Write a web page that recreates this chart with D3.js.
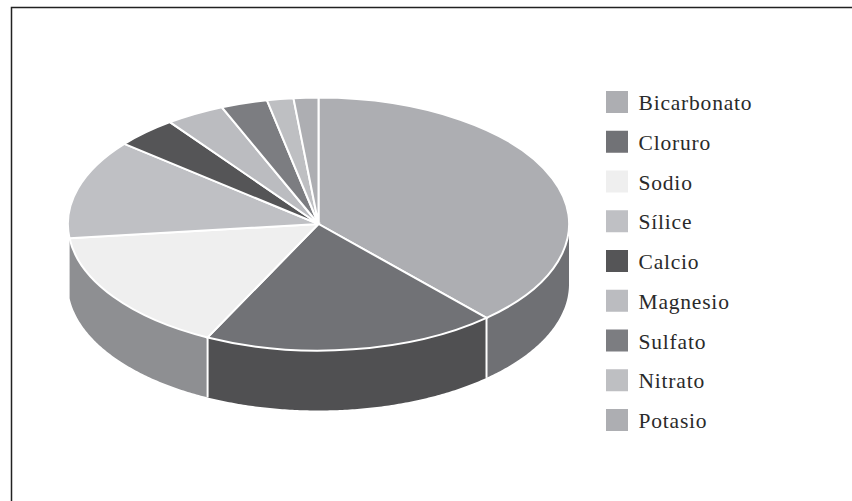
<!DOCTYPE html>
<html lang="es">
<head>
<meta charset="utf-8">
<script src="https://cdn.jsdelivr.net/npm/d3@7"></script>
<style>
  html, body { margin: 0; padding: 0; background: #fff; }
  svg { display: block; }
  text { font-family: "Liberation Serif", serif; font-size: 21.5px; fill: #2a2a2a; }
</style>
</head>
<body>
<svg id="chart" width="852" height="501"></svg>
<script>
// Dissolved constituents, in percent of the total
const categories = ["Bicarbonato", "Cloruro", "Sodio", "Sílice", "Calcio", "Magnesio", "Sulfato", "Nitrato", "Potasio"];
const values = [38.3, 19.0, 15.9, 12.7, 4.0, 3.8, 3.0, 1.7, 1.6];
const topColors = ["#adaeb2", "#717276", "#efefef", "#bfc0c4", "#555557", "#bbbcc0", "#7c7d81", "#bebfc2", "#adaeb2"];
// Only the first three slices reach the near rim of the disc
const sideColors = ["#6f7074", "#505052", "#8e8f92"];

const cx = 318.5, cy = 224, rx = 250.5, ry = 126.5, depth = 60;

const svg = d3.select("#chart");

// Frame: top and left rules running off the page
svg.append("path")
  .attr("d", "M11.5,501V7.5H852")
  .attr("fill", "none")
  .attr("stroke", "#222")
  .attr("stroke-width", 1.5);

const pie = d3.pie().sort(null).value(d => d)(values);

// Screen position of a pie angle (clockwise from twelve o'clock)
const px = a => cx + rx * Math.sin(a);
const py = a => cy - ry * Math.cos(a);

// Wall of the disc between two angles, on the near half only
function wallPath(a0, a1) {
  const from = Math.max(a0, Math.PI / 2), to = Math.min(a1, Math.PI * 1.5);
  const edge = d3.range(from, to, 0.01).concat(to);
  const upper = edge.map(a => [px(a), py(a)]);
  const lower = edge.slice().reverse().map(a => [px(a), py(a) + depth]);
  return d3.line()(upper.concat(lower)) + "Z";
}

const walls = svg.append("g");
sideColors.forEach((color, i) => {
  const d = pie[i];
  walls.append("path").attr("d", wallPath(d.startAngle, d.endAngle)).attr("fill", color);
});

// White seams between neighbouring walls
walls.selectAll("line")
  .data(pie.slice(0, 2))
  .join("line")
  .attr("x1", d => px(d.endAngle)).attr("y1", d => py(d.endAngle))
  .attr("x2", d => px(d.endAngle)).attr("y2", d => py(d.endAngle) + depth)
  .attr("stroke", "#fff").attr("stroke-width", 2);

// Top face: a unit pie squashed into an ellipse
const arc = d3.arc().innerRadius(0).outerRadius(1);
svg.append("g")
  .attr("transform", `translate(${cx},${cy}) scale(${rx},${ry})`)
  .selectAll("path")
  .data(pie)
  .join("path")
  .attr("d", arc)
  .attr("fill", (d, i) => topColors[i])
  .attr("stroke", "#fff")
  .attr("stroke-width", 2)
  .attr("vector-effect", "non-scaling-stroke");

// Legend
const legendY = d3.scalePoint().domain(categories).range([102, 420]);
const legend = svg.append("g").selectAll("g")
  .data(categories)
  .join("g")
  .attr("transform", d => `translate(606,${legendY(d)})`);
legend.append("rect")
  .attr("y", -11).attr("width", 22).attr("height", 22)
  .attr("fill", (d, i) => topColors[i]);
legend.append("text")
  .attr("x", 32.5).attr("y", 8)
  .attr("letter-spacing", "0.8")
  .text(d => d);
</script>
</body>
</html>
